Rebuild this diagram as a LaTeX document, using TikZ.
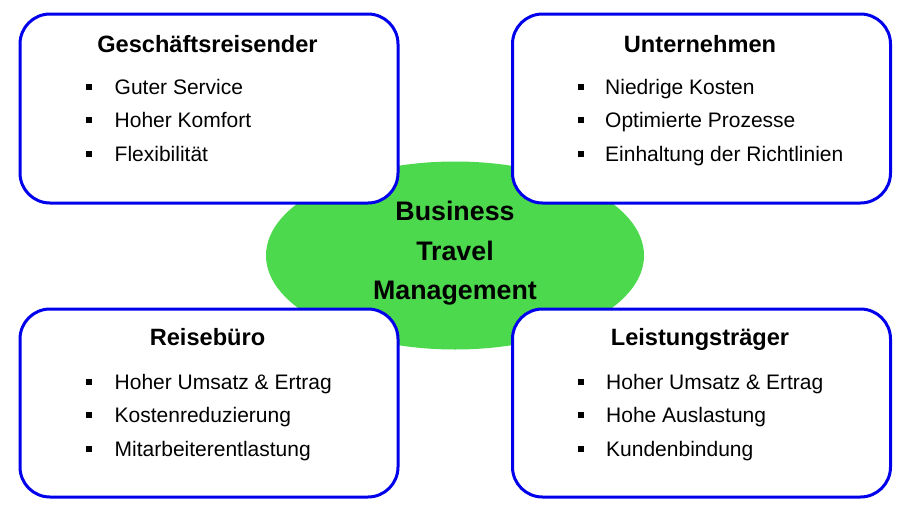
\documentclass[tikz,border=0pt]{standalone}
\usepackage{fontspec}
\setmainfont{Liberation Sans}
\definecolor{bgreen}{RGB}{77,217,77}
\definecolor{bblue}{RGB}{0,0,235}
\begin{document}
\begin{tikzpicture}[x=1pt,y=-1pt,
  box/.style={draw=bblue, line width=3pt, fill=white, rounded corners=30pt,
    minimum width=378pt, inner sep=0pt, rectangle},
  ttl/.style={anchor=base, inner sep=0pt, font=\fontsize{23.6}{28}\selectfont\bfseries},
  itm/.style={anchor=base west, inner sep=0pt, font=\fontsize{21}{25}\selectfont},
  bul/.style={fill=black, rectangle, minimum size=6pt, inner sep=0pt},
  ctr/.style={anchor=base, inner sep=0pt, font=\fontsize{26.8}{32}\selectfont\bfseries}]
\useasboundingbox (0,0) rectangle (906,512);
\fill[bgreen] (455,255.5) ellipse [x radius=189pt, y radius=94pt];
\node[box, minimum height=189pt] (gr) at (209,108.5) {};
\node[box, minimum height=189pt] (un) at (701.5,108.5) {};
\node[box, minimum height=188pt] (rb) at (209,403) {};
\node[box, minimum height=188pt] (lt) at (701.5,403) {};
% titles
\node[ttl] (gr-t) at ([shift={(189,39.5)}]gr.north west) {Geschäftsreisender};
\node[ttl] (un-t) at ([shift={(189,39.5)}]un.north west) {Unternehmen};
\node[ttl] (rb-t) at ([shift={(189,37.5)}]rb.north west) {Reisebüro};
\node[ttl] (lt-t) at ([shift={(189,37.5)}]lt.north west) {Leistungsträger};
% items
\foreach \b/\xo/\a/\bb/\c in {gr/96/Guter Service/Hoher Komfort/Flexibilität,
                     un/94/Niedrige Kosten/Optimierte Prozesse/Einhaltung der Richtlinien,
                     rb/96/Hoher Umsatz \& Ertrag/Kostenreduzierung/Mitarbeiterentlastung,
                     lt/95/Hoher Umsatz \& Ertrag/Hohe Auslastung/Kundenbindung}{
  \node[itm] (\b-1) at ([shift={(\xo,82)}]\b.north west) {\a};
  \node[itm] (\b-2) at ([shift={(\xo,115)}]\b.north west) {\bb};
  \node[itm] (\b-3) at ([shift={(\xo,149)}]\b.north west) {\c};
  \node[bul] (\b-b1) at ([shift={(70,74)}]\b.north west) {};
  \node[bul] (\b-b2) at ([shift={(70,107)}]\b.north west) {};
  \node[bul] (\b-b3) at ([shift={(70,141)}]\b.north west) {};
}
% center
\node[ctr] (c1) at (455,220.5) {Business};
\node[ctr] (c2) at (455,260.5) {Travel};
\node[ctr] (c3) at (455,299.5) {Management};
\end{tikzpicture}
\end{document}
